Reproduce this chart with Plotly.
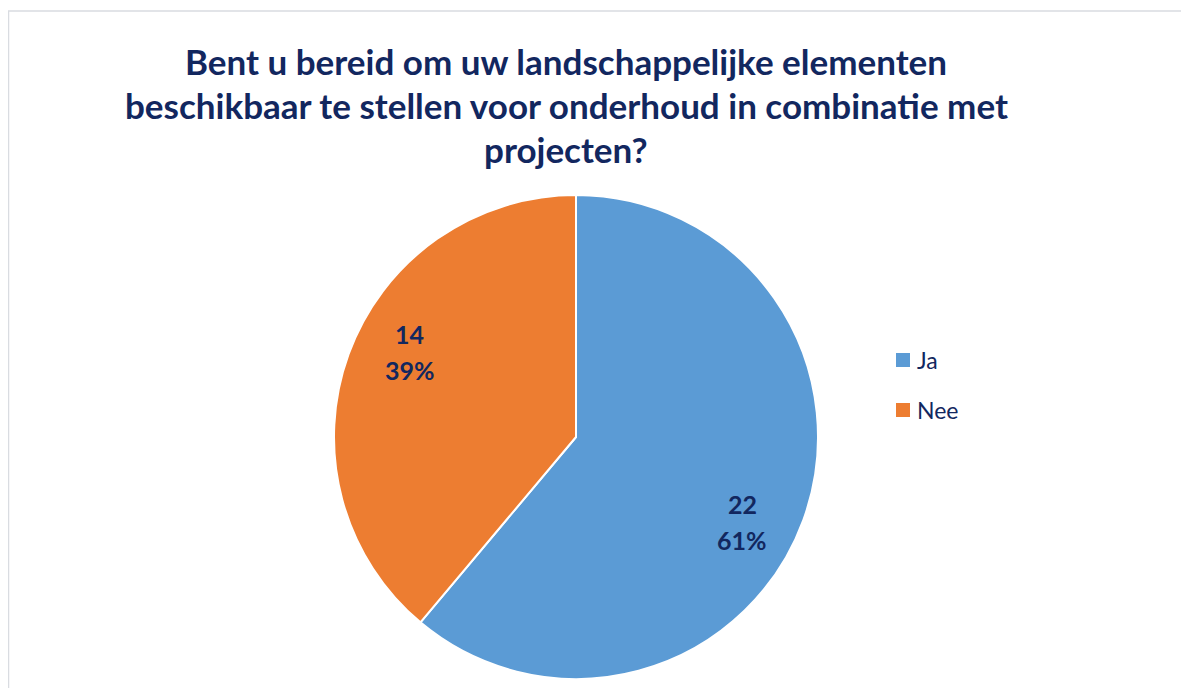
import math
import plotly.graph_objects as go

# ---- data ----
labels = ["Ja", "Nee"]
values = [22, 14]
colors = ["#5B9BD5", "#ED7D31"]
title_lines = [
    "Bent u bereid om uw landschappelijke elementen",
    "beschikbaar te stellen voor onderhoud in combinatie met",
    "projecten?",
]

W, H = 1189, 688
OFF = 8  # page body margin
NAVY = "#12275F"
FONT = "Lato"

def px(x):
    return (x - OFF) / W

def py(y):
    return 1 - (y - OFF) / H

# pie geometry (pixels in screenshot)
cx, cy, r = 576, 437, 242

fig = go.Figure(go.Pie(
    labels=labels,
    values=values,
    sort=False,
    direction="clockwise",
    rotation=0,
    marker=dict(colors=colors, line=dict(color="white", width=2)),
    textinfo="none",
    hoverinfo="label+value+percent",
    showlegend=False,
    domain=dict(x=[px(cx - r), px(cx + r)], y=[py(cy + r), py(cy - r)]),
))

annotations = []
# title
for i, line in enumerate(title_lines):
    annotations.append(dict(
        text=line, x=px(566), y=py(61 + i * 44), xref="paper", yref="paper",
        xanchor="center", yanchor="middle", showarrow=False,
        font=dict(family=FONT, size=35, color=NAVY, weight="bold"),
    ))

# slice labels computed from data
total = sum(values)
cum = 0
for lab, v in zip(labels, values):
    mid = (cum + v / 2) / total * 2 * math.pi + math.radians(7)
    cum += v
    lx = cx + 0.77 * r * math.sin(mid)
    ly = cy - 0.77 * r * math.cos(mid)
    pct = round(100 * v / total)
    for txt, dy in ((str(v), -18), (f"{pct}%", 18)):
        annotations.append(dict(
            text=txt, x=px(lx), y=py(ly + dy), xref="paper", yref="paper",
            xanchor="center", yanchor="middle", showarrow=False,
            font=dict(family=FONT, size=25, color=NAVY, weight="bold"),
        ))

shapes = []
# legend built from categories
for i, (lab, col) in enumerate(zip(labels, colors)):
    ymid = 360 + i * 50
    shapes.append(dict(type="rect", xref="paper", yref="paper",
                       x0=px(896), x1=px(910), y0=py(ymid + 7), y1=py(ymid - 7),
                       fillcolor=col, line=dict(width=0)))
    annotations.append(dict(
        text=lab, x=px(915), y=py(ymid), xref="paper", yref="paper",
        xanchor="left", yanchor="middle", showarrow=False,
        font=dict(family=FONT, size=23, color=NAVY),
    ))

# chart border
shapes.append(dict(type="rect", xref="paper", yref="paper",
                   x0=px(8.5), x1=px(W + 30), y0=py(H + 30), y1=py(11),
                   line=dict(color="#D9DCE1", width=1.5), fillcolor="rgba(0,0,0,0)",
                   layer="below"))

fig.update_layout(
    width=W, height=H,
    margin=dict(l=0, r=0, t=0, b=0),
    paper_bgcolor="white", plot_bgcolor="white",
    annotations=annotations, shapes=shapes,
    showlegend=False,
)

fig.write_html("out.html")
